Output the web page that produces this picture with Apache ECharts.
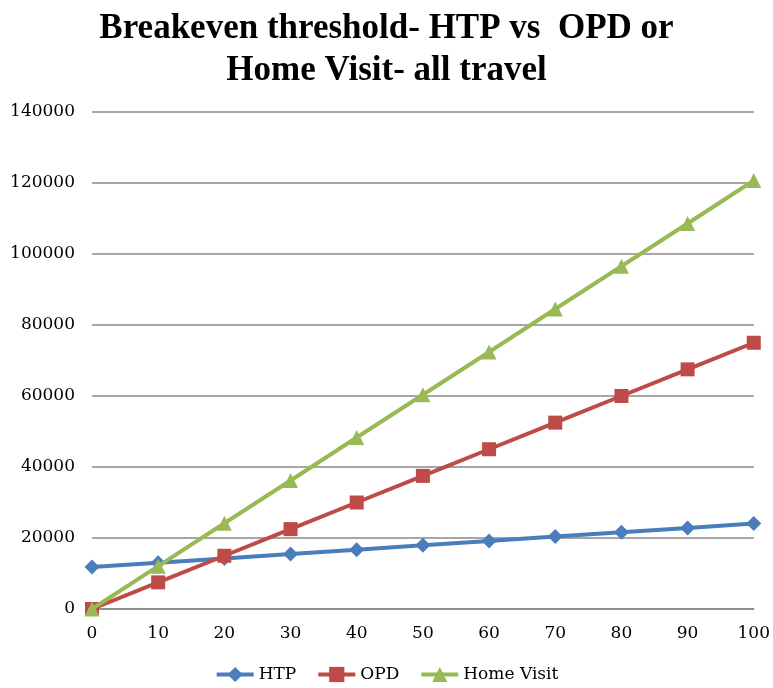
<!DOCTYPE html>
<html>
<head>
<meta charset="utf-8">
<script src="https://cdn.jsdelivr.net/npm/echarts@6/dist/echarts.min.js"></script>
<style>html,body{margin:0;padding:0;background:#fff}#c{width:773px;height:688px}</style>
</head>
<body>
<div id="c"></div>
<script>
const categories = ['0','10','20','30','40','50','60','70','80','90','100'];
const htp = [11800, 13050, 14250, 15500, 16700, 17950, 19150, 20400, 21600, 22850, 24100];
const opd = [0, 7500, 15000, 22500, 30000, 37500, 45000, 52500, 60000, 67500, 75000];
const homeVisit = [0, 12070, 24140, 36200, 48300, 60350, 72400, 84500, 96550, 108600, 120700];
const yTicks = {min: 0, max: 140000, interval: 20000};

const chart = echarts.init(document.getElementById('c'));
const font = 'DejaVu Serif';
chart.setOption({
  animation: false,
  backgroundColor: '#fff',
  title: {
    text: 'Breakeven threshold- HTP vs  OPD or\nHome Visit- all travel',
    left: 'center', top: 3,
    textStyle: {fontFamily: 'Liberation Serif', fontWeight: 'bold', fontSize: 35, lineHeight: 42, color: '#000'}
  },
  grid: {left: 92, right: 19, top: 112, bottom: 79},
  legend: {
    bottom: 0, left: 'center', itemWidth: 37, itemHeight: 19, itemGap: 20,
    textStyle: {fontFamily: font, fontSize: 17, color: '#000'},
    lineStyle: {width: 4},
    data: ['HTP', 'OPD', 'Home Visit']
  },
  xAxis: {
    type: 'category', boundaryGap: false, data: categories,
    axisLine: {lineStyle: {color: '#888', width: 1.5}},
    axisTick: {show: false},
    axisLabel: {fontFamily: font, fontSize: 17, color: '#000', margin: 16}
  },
  yAxis: {
    type: 'value', min: yTicks.min, max: yTicks.max, interval: yTicks.interval,
    axisLine: {show: false}, axisTick: {show: false},
    splitLine: {lineStyle: {color: '#888', width: 1.5}},
    axisLabel: {fontFamily: font, fontSize: 17, color: '#000', margin: 17,
      formatter: v => String(v)}
  },
  series: [
    {name: 'HTP', type: 'line', data: htp, symbol: 'diamond', symbolSize: 15,
     lineStyle: {width: 4, color: '#4a7ebb'}, itemStyle: {color: '#4a7ebb'}, z: 3},
    {name: 'OPD', type: 'line', data: opd, symbol: 'rect', symbolSize: 14,
     lineStyle: {width: 4, color: '#be4b48'}, itemStyle: {color: '#be4b48'}, z: 4},
    {name: 'Home Visit', type: 'line', data: homeVisit, symbol: 'triangle', symbolSize: 15,
     lineStyle: {width: 4, color: '#98b954'}, itemStyle: {color: '#98b954'}, z: 5}
  ]
});
</script>
</body>
</html>
